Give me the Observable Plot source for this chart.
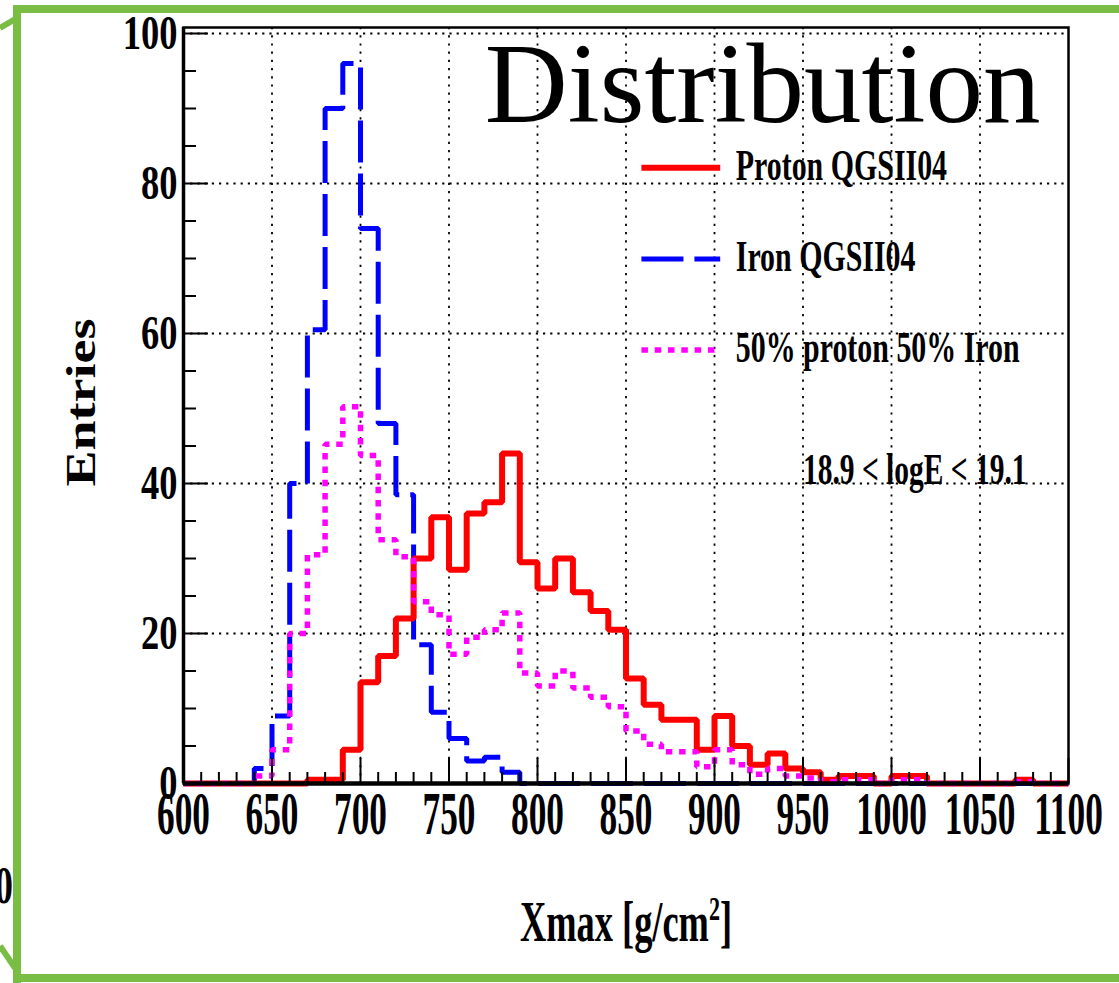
<!DOCTYPE html>
<html>
<head>
<meta charset="utf-8">
<script src="https://cdn.jsdelivr.net/npm/d3@7"></script>
<script src="https://cdn.jsdelivr.net/npm/@observablehq/plot@0.6"></script>
<style>
  html, body { margin: 0; padding: 0; background: #ffffff; }
  #page { position: relative; width: 1119px; height: 983px; overflow: hidden; background: #ffffff; }
  #chart { position: absolute; left: 0; top: 0; }
  #slide { position: absolute; left: 0; top: 0; pointer-events: none; }
</style>
</head>
<body>
<div id="page">
  <div id="chart"></div>
</div>
<script>
// Xmax histograms, 10 g/cm2 bins from 600 to 1100
const binStart = 600;
const binWidth = 10;

const proton = [
  0, 0, 0, 0, 0, 0, 0, 0.5, 0.5, 4.5,
  13.5, 17, 22, 30, 35.5, 28.5, 36, 37.5, 44, 29.5,
  26, 30, 25.5, 23, 20.5, 14, 10.5, 8.5, 8.5, 4.5,
  9, 5, 2.5, 4, 2, 1.5, 0.5, 1, 1, 0,
  1, 1, 0, 0, 0, 0, 0, 0.5, 0, 0
];

const iron = [
  0, 0, 0, 0, 2, 9, 40, 60.5, 90, 96,
  74, 48, 38.5, 18.5, 9.5, 6, 3, 3.5, 1.5, 0,
  0, 0, 0, 0, 0, 0, 0, 0, 0, 0,
  0, 0, 0, 0, 0, 0, 0, 0, 0, 0,
  0, 0, 0, 0, 0, 0, 0, 0, 0, 0
];

const mixed = [
  0, 0, 0, 0, 1, 4.5, 20, 30.5, 45.25, 50.25,
  43.75, 32.5, 30.25, 24.25, 22.5, 17.25, 19.5, 20.5, 22.75, 14.75,
  13, 15, 12.75, 11.5, 10.25, 7, 5.25, 4.25, 4.25, 2.25,
  4.5, 2.5, 1.25, 2, 1, 0.75, 0.25, 0.5, 0.5, 0,
  0.5, 0.5, 0, 0, 0, 0, 0, 0.25, 0, 0
];

const seriesNames = ["Proton QGSII04", "Iron QGSII04", "50% proton 50% Iron"];
const xTickValues = [600, 650, 700, 750, 800, 850, 900, 950, 1000, 1050, 1100];
const yTickValues = [0, 20, 40, 60, 80, 100];
const yMinorStep = 5;
const titleText = "Distribution";
const energyLabel = "18.9 < logE < 19.1";
const xLabelParts = ["Xmax [g/cm", "2", "]"];
const yLabel = "Entries";

// ---- layout ----
const W = 1119, H = 983;
const M = {left: 183, right: 51, top: 27, bottom: 200};
const plotW = W - M.left - M.right;
const plotH = H - M.top - M.bottom;
const xMin = 600, xMax = 1100;
const yMax = 100.8;
const ux = (xMax - xMin) / plotW;   // data units per pixel, x
const uy = yMax / plotH;            // data units per pixel, y

const SERIF = "Liberation Serif, Times New Roman, Times, serif";

const lineStyles = [
  {stroke: "#ff0000", strokeWidth: 6},
  {stroke: "#0000ff", strokeWidth: 5, strokeDasharray: "42,11"},
  {stroke: "#ff00ff", strokeWidth: 5.5, strokeDasharray: "6.5,6.8"}
];

function steps(values) {
  const pts = values.map((v, i) => ({x: binStart + i * binWidth, y: v}));
  pts.push({x: binStart + values.length * binWidth, y: values[values.length - 1]});
  return pts;
}

const binEdges = d3.range(proton.length + 1).map(i => binStart + i * binWidth);
const xMinor = binEdges.filter(v => !xTickValues.includes(v));
const xGrid = xTickValues.slice(1, -1);
const yMinor = d3.range(0, yTickValues[yTickValues.length - 1] + 1, yMinorStep).filter(v => !yTickValues.includes(v));
const yGrid = yTickValues.slice(1);

// legend rows
const legendTop = 82.1, legendStep = 12.15;
const legendX1 = 859, legendX2 = 903.5, legendTextX = 912;
const legendRows = seriesNames.map((name, i) => ({name, i, y: legendTop - i * legendStep}));

const histLine = (values, style) => Plot.line(steps(values), {
  x: "x", y: "y", curve: "step-after",
  strokeLinejoin: "miter", strokeLinecap: "butt", ...style
});

const chart = Plot.plot({
  width: W, height: H,
  marginLeft: M.left, marginRight: M.right, marginTop: M.top, marginBottom: M.bottom,
  x: {domain: [xMin, xMax], axis: null},
  y: {domain: [0, yMax], axis: null},
  style: {fontFamily: SERIF, fontWeight: "bold", background: "transparent", overflow: "visible"},
  marks: [
    // dotted grid
    Plot.ruleX(xGrid, {x: d => d, stroke: "black", strokeWidth: 1.8, strokeDasharray: "2.2,6"}),
    Plot.ruleY(yGrid, {y: d => d, stroke: "black", strokeWidth: 1.8, strokeDasharray: "2.2,5"}),
    // histograms
    histLine(iron, lineStyles[1]),
    histLine(proton, lineStyles[0]),
    histLine(mixed, lineStyles[2]),
    // frame and axes
    Plot.frame({stroke: "black", strokeWidth: 2.5}),
    Plot.ruleY([0], {stroke: "black", strokeWidth: 4.5}),
    Plot.ruleX([xMin], {stroke: "black", strokeWidth: 3.5}),
    // inward ticks
    Plot.ruleX(xTickValues, {x: d => d, y1: 0, y2: 25 * uy, stroke: "black", strokeWidth: 2}),
    Plot.ruleX(xMinor, {x: d => d, y1: 0, y2: 11 * uy, stroke: "black", strokeWidth: 2}),
    Plot.ruleY(yTickValues, {y: d => d, x1: xMin, x2: xMin + 25 * ux, stroke: "black", strokeWidth: 2}),
    Plot.ruleY(yMinor, {y: d => d, x1: xMin, x2: xMin + 13 * ux, stroke: "black", strokeWidth: 2}),
    // tick labels
    Plot.text(xTickValues, {x: d => d, frameAnchor: "bottom", textAnchor: "middle", lineAnchor: "top", dy: 6,
      text: d => String(d), fontSize: 62, fontFamily: SERIF, fill: "black", ariaDescription: "x-ticks"}),
    Plot.text(yTickValues, {y: d => d, frameAnchor: "left", textAnchor: "end", dx: -6,
      text: d => String(d), fontSize: 48, fontFamily: SERIF, fill: "black", ariaDescription: "y-ticks"}),
    // axis titles
    Plot.text([xLabelParts.join("")], {frameAnchor: "bottom", textAnchor: "middle", lineAnchor: "bottom", dy: 157,
      text: d => d, fontSize: 56, fontFamily: SERIF, fill: "black", ariaDescription: "x-title"}),
    Plot.text([yLabel], {frameAnchor: "left", textAnchor: "middle", lineAnchor: "bottom", rotate: -90, dx: -89, dy: -3,
      text: d => d, fontSize: 54, fontFamily: SERIF, fill: "black", ariaDescription: "y-title"}),
    // legend
    ...legendRows.map(r => Plot.ruleY([r], {y: "y", x1: legendX1, x2: legendX2,
      strokeLinecap: "butt", ...lineStyles[r.i]})),
    Plot.text(legendRows, {x: legendTextX, y: "y", text: "name", textAnchor: "start",
      lineAnchor: "bottom", dy: 12, fontSize: 44, fontFamily: SERIF, fill: "black", ariaDescription: "legend"}),
    Plot.text([energyLabel], {x: 950, y: 40, text: d => d, textAnchor: "start",
      lineAnchor: "bottom", fontSize: 44, fontFamily: SERIF, fill: "black", ariaDescription: "energy"}),
    // title
    Plot.text([titleText], {frameAnchor: "top-right", textAnchor: "end", lineAnchor: "bottom",
      dx: -28, dy: 94, text: d => d, fontSize: 115, fontFamily: SERIF, fontWeight: "normal", fill: "black",
      ariaDescription: "title"})
  ]
});

// narrow the serif labels horizontally (or across the line for the rotated title)
function condense(desc, sx, sy) {
  chart.querySelectorAll(`g[aria-description="${desc}"] text`).forEach(t => {
    let tr = t.getAttribute("transform") || "";
    const x = t.getAttribute("x");
    if (x != null) { tr = `${tr} translate(${x},0)`; t.removeAttribute("x"); }
    t.setAttribute("transform", `${tr} scale(${sx},${sy})`);
  });
}
condense("x-ticks", 0.57, 1);
condense("y-ticks", 0.76, 1);
condense("x-title", 0.65, 1);
condense("y-title", 1, 0.78);
condense("legend", 0.68, 1);
condense("energy", 0.67, 1);

// raised exponent in the x title
chart.querySelectorAll('g[aria-description="x-title"] text').forEach(t => {
  t.textContent = xLabelParts[0];
  const sup = document.createElementNS("http://www.w3.org/2000/svg", "tspan");
  sup.setAttribute("dy", "-21");
  sup.setAttribute("font-size", "34");
  sup.textContent = xLabelParts[1];
  const close = document.createElementNS("http://www.w3.org/2000/svg", "tspan");
  close.setAttribute("dy", "21");
  close.textContent = xLabelParts[2];
  t.appendChild(sup);
  t.appendChild(close);
});

const page = document.getElementById("page");
document.getElementById("chart").appendChild(chart);

// slide border around the figure
const green = "#7abd44";
const slide = d3.create("svg").attr("id", "slide").attr("width", W).attr("height", H);
slide.append("line").attr("x1", 13).attr("x2", W).attr("y1", 9).attr("y2", 9)
  .attr("stroke", green).attr("stroke-width", 8);
slide.append("line").attr("x1", 17).attr("x2", 17).attr("y1", 5).attr("y2", H)
  .attr("stroke", green).attr("stroke-width", 8);
slide.append("line").attr("x1", 13).attr("x2", W).attr("y1", 978).attr("y2", 978)
  .attr("stroke", green).attr("stroke-width", 8);
slide.append("line").attr("x1", 0).attr("y1", 28).attr("x2", 17).attr("y2", 18)
  .attr("stroke", green).attr("stroke-width", 6);
slide.append("line").attr("x1", 0).attr("y1", 946).attr("x2", 15).attr("y2", 968)
  .attr("stroke", green).attr("stroke-width", 6);
slide.append("text").attr("transform", "translate(13,903) scale(0.7,1)")
  .attr("text-anchor", "end").attr("font-family", SERIF).attr("font-weight", "bold")
  .attr("font-size", 52).text("0");
page.appendChild(slide.node());
</script>
</body>
</html>
